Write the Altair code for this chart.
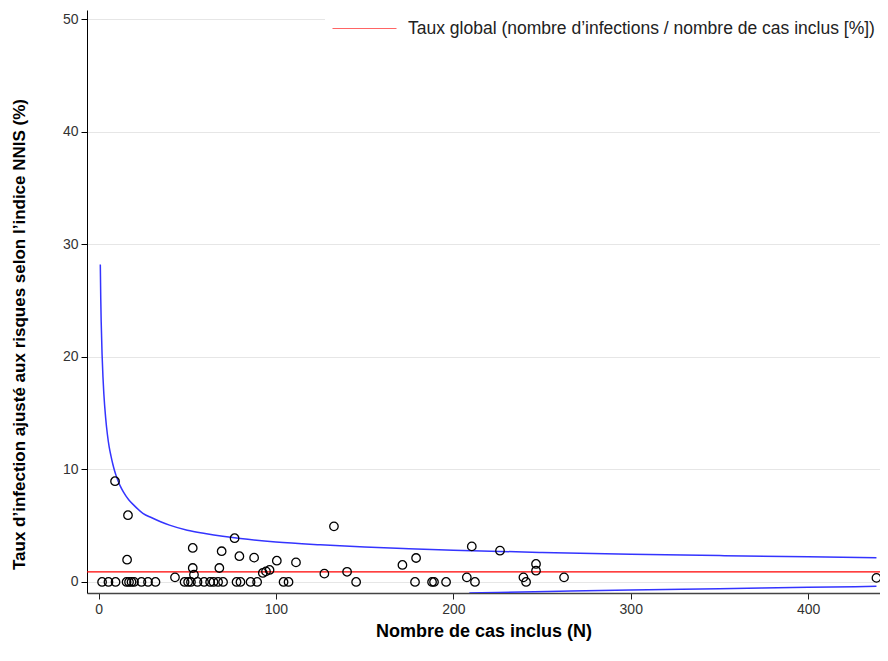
import altair as alt
import pandas as pd

# Observed centres: number of included cases (N) and risk-adjusted infection rate (%)
pts_n = [2.0, 5.6, 9.6, 15.8, 17.2, 18.6, 20.0, 24.2, 27.9, 32.1,
         48.5, 50.5, 52.1, 55.8, 59.5, 62.9, 64.8, 67.4, 70.2, 77.8,
         80.0, 85.7, 89.4, 104.3, 107.1, 145.2, 178.4, 188.0, 189.1, 195.9,
         212.2, 241.0,
         9.3, 16.6, 16.1, 43.1, 53.1, 53.1, 53.8, 69.4, 68.1, 76.7,
         79.4, 87.7, 92.6, 94.4, 96.4, 100.5, 111.3, 127.3, 132.7, 140.1,
         171.3, 179.0, 207.6, 210.4, 226.3, 239.5, 246.6, 246.6, 262.4, 438.5]
pts_rate = [0, 0, 0, 0, 0, 0, 0, 0, 0, 0,
            0, 0, 0, 0, 0, 0, 0, 0, 0, 0,
            0, 0, 0, 0, 0, 0, 0, 0, 0, 0,
            0, 0,
            8.95, 5.93, 1.98, 0.41, 3.02, 1.24, 0.65, 2.73, 1.24, 3.89,
            2.29, 2.16, 0.80, 0.94, 1.07, 1.89, 1.74, 0.74, 4.94, 0.90,
            1.51, 2.13, 0.41, 3.16, 2.78, 0.41, 1.60, 1.00, 0.41, 0.36]

# Upper control limit
upper_n = [1, 1.25, 1.5, 2, 2.5, 3, 4, 5, 6, 7, 8, 9, 10, 12, 14, 17, 20, 25, 30, 35,
           40, 50, 60, 70, 80, 100, 125, 150, 175, 200, 250, 300, 350, 400, 438.5]
upper_val = [28.2, 25.2, 23.1, 20.2, 18.2, 16.7, 14.6, 13.1, 12.0, 11.2, 10.5, 9.9, 9.4,
             8.6, 8.0, 7.3, 6.8, 6.1, 5.7, 5.35, 5.05, 4.6, 4.3, 4.05, 3.85, 3.55, 3.3,
             3.1, 2.95, 2.82, 2.62, 2.47, 2.34, 2.23, 2.15]

# Lower control limit (visible only at the bottom right)
lower_n = [209, 225, 260, 300, 350, 400, 438.5]
lower_val = [-0.985, -0.93, -0.83, -0.72, -0.60, -0.48, -0.39]

global_rate = [0.89]
legend_label = ["Taux global (nombre d\u2019infections / nombre de cas inclus [%])"]

FONT = "Liberation Sans"

xscale = alt.Scale(domain=[-6.5, 440.5], nice=False, zero=False)
yscale = alt.Scale(domain=[-0.98, 50.8], nice=False, zero=False)

pts = pd.DataFrame({"n": pts_n, "rate": pts_rate})
up = pd.DataFrame({"n": upper_n, "v": upper_val})
lo = pd.DataFrame({"n": lower_n, "v": lower_val})
glob = pd.DataFrame({"rate": global_rate, "label": legend_label})

xaxis = alt.Axis(values=[0, 100, 200, 300, 400], title="Nombre de cas inclus (N)",
                 grid=False, domainColor="#444", domainWidth=1.5, tickColor="#222",
                 tickSize=6, labelFontSize=14, labelColor="#333", labelFont=FONT,
                 titleFont=FONT, titleFontSize=18, titleFontWeight="bold",
                 titleColor="#000", titlePadding=6, labelPadding=3)
yaxis = alt.Axis(values=[0, 10, 20, 30, 40, 50],
                 title="Taux d\u2019infection ajust\u00e9 aux risques selon l\u2019indice NNIS (%)",
                 grid=True, gridColor="#e6e6e6", domainColor="#000", tickColor="#000",
                 tickSize=6, labelFontSize=14, labelColor="#333", labelFont=FONT,
                 titleFont=FONT, titleFontSize=17, titleFontWeight="bold",
                 titleColor="#000", titleX=-68, titleY=324, titleAngle=270,
                 titleAlign="center", titleBaseline="middle", labelPadding=3)

upper_line = alt.Chart(up).mark_line(color="#3434ff", strokeWidth=1.5, clip=True,
                                     interpolate="monotone").encode(
    x=alt.X("n:Q", scale=xscale, axis=xaxis),
    y=alt.Y("v:Q", scale=yscale, axis=yaxis),
)
lower_line = alt.Chart(lo).mark_line(color="#3434ff", strokeWidth=1.5, clip=True,
                                     interpolate="monotone").encode(
    x=alt.X("n:Q", scale=xscale),
    y=alt.Y("v:Q", scale=yscale),
)
rule = alt.Chart(glob).mark_rule(strokeWidth=1.3).encode(
    y=alt.Y("rate:Q", scale=yscale),
    color=alt.Color("label:N", scale=alt.Scale(range=["#ff0000"]),
                    legend=alt.Legend(title=None, orient="none", legendX=238, legendY=-21,
                                      fillColor="white", padding=7, symbolType="stroke",
                                      symbolSize=4096, symbolStrokeWidth=1,
                                      symbolStrokeColor="#ff0000", symbolOpacity=0.6,
                                      labelFontSize=17.5, labelFont=FONT, labelColor="#222",
                                      labelLimit=0, labelOffset=11)),
)
points = alt.Chart(pts).mark_point(shape="circle", filled=False, color="#000",
                                   size=72, strokeWidth=1.3, opacity=1).encode(
    x=alt.X("n:Q", scale=xscale),
    y=alt.Y("rate:Q", scale=yscale),
)

chart = alt.layer(upper_line, lower_line, rule, points).properties(
    width=793, height=583,
    autosize=alt.AutoSizeParams(type="none"),
    padding={"left": 79, "top": 2, "right": 0, "bottom": 55},
    background="white",
).configure_view(stroke=None)

chart.save("out.html", embed_options={"renderer": "svg", "actions": False})
